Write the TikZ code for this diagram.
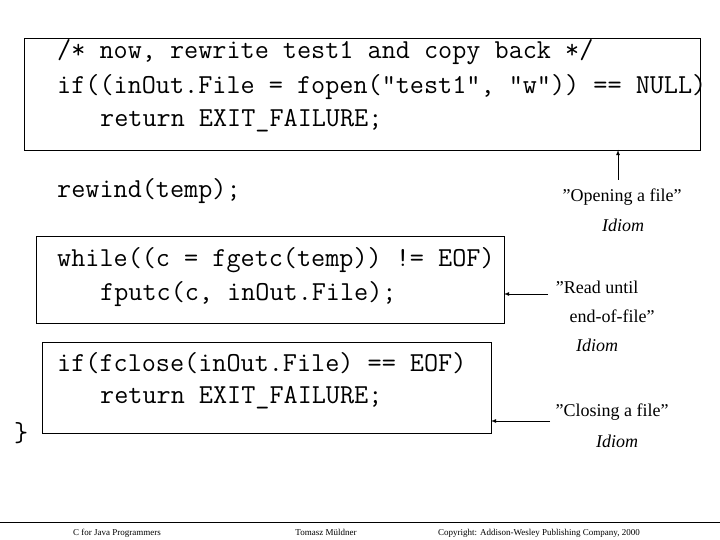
\documentclass[tikz,border=0pt]{standalone}
\usepackage{fontspec}
\setmainfont{Liberation Serif}
\newcommand{\dq}{\symbol{34}}
\begin{document}
\begin{tikzpicture}[x=1pt,y=-1pt,
  code/.style={anchor=west,inner sep=0pt,font=\ttfamily\fontsize{27.4}{27}\selectfont},
  lbl/.style={inner sep=0pt,font=\fontsize{18}{18}\selectfont},
  idiom/.style={inner sep=0pt,font=\itshape\fontsize{18}{18}\selectfont},
  foot/.style={inner sep=0pt,anchor=base,font=\fontsize{9}{9}\selectfont},
  box/.style={draw,line width=0.8pt},
  arr/.style={-latex,line width=0.8pt}]
\useasboundingbox (0,0) rectangle (720,540);
\draw[box] (24,38) rectangle (700,150);
\draw[box] (36,236) rectangle (504,323);
\draw[box] (42,342) rectangle (491,433);
\node[code] (l1) at (57,52) {/* now, rewrite test1 and copy back */};
\node[code] (l2) at (57,87) {if((inOut.File = fopen(\dq test1\dq, \dq w\dq)) == NULL)};
\node[code] (l3) at (100,121) {return EXIT\_FAILURE;};
\node[code] (l4) at (57,191) {rewind(temp);};
\node[code] (l5) at (57,260) {while((c = fgetc(temp)) != EOF)};
\node[code] (l6) at (100,294) {fputc(c, inOut.File);};
\node[code] (l7) at (57,363) {if(fclose(inOut.File) == EOF)};
\node[code] (l8) at (100,398) {return EXIT\_FAILURE;};
\node[code] (l9) at (14,433) {\}};
\node[lbl] (o1) at (622,197) {\dq Opening a file\dq};
\node[idiom] (o2) at (623,225) {Idiom};
\node[lbl] (r1) at (597,287) {\dq Read until};
\node[lbl] (r2) at (612,316) {end-of-file\dq};
\node[idiom] (r3) at (597,345) {Idiom};
\node[lbl] (c1) at (612,412) {\dq Closing a file\dq};
\node[idiom] (c2) at (617,441) {Idiom};
\coordinate (a1) at (618,180); \coordinate (b1) at (618,150);
\coordinate (a2) at (548,294); \coordinate (b2) at (504,294);
\coordinate (a3) at (550,421); \coordinate (b3) at (491,421);
\draw[arr] (a1) -- (b1);
\draw[arr] (a2) -- (b2);
\draw[arr] (a3) -- (b3);
\coordinate (f1) at (0,522); \coordinate (f2) at (720,522);
\draw[line width=1pt] (f1) -- (f2);
\node[foot] (t1) at (117,535) {C for Java Programmers};
\node[foot] (t2) at (326,535) {Tomasz Müldner};
\node[foot] (t3) at (539,535) {Copyright: Addison-Wesley Publishing Company, 2000};
\end{tikzpicture}
\end{document}
